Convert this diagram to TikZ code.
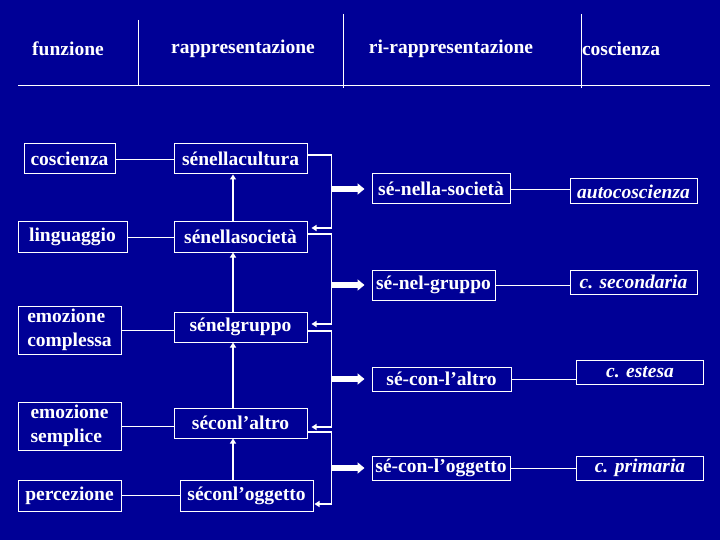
\documentclass[tikz,border=0pt]{standalone}
\usepackage{fontspec}
\setmainfont{Liberation Serif}
\usetikzlibrary{arrows.meta}
\definecolor{slideblue}{RGB}{0,0,150}

\begin{document}
\begin{tikzpicture}[x=1pt, y=-1pt,
    box/.style={rectangle, draw=white, line width=1pt, text=white, inner sep=0pt, minimum height=30pt, align=center, font=\fontsize{19.5}{24}\selectfont\bfseries},
    lbox/.style={box, align=left, minimum width=103pt, minimum height=48pt},
    cbox/.style={box, minimum width=127pt, minimum height=24pt, font=\fontsize{19.5}{24}\selectfont\bfseries\itshape},
    head/.style={text=white, inner sep=0pt, font=\fontsize{19.5}{24}\selectfont\bfseries},
    link/.style={draw=white, line width=0.8pt},
    uparrow/.style={draw=white, line width=1.6pt, -{Triangle[length=5pt,width=6pt]}},
    bracket/.style={draw=white, line width=1.6pt, -{Triangle[length=5pt,width=6pt]}},
    bigarrow/.style={draw=white, line width=5.5pt, -{Triangle[length=7pt,width=11pt]}}
]
\fill [slideblue] (0,0) rectangle (720,540);
\useasboundingbox (0,0) rectangle (720,540);

% header
\node (hfunz) [head] at (68,49) {funzione};
\node (hrapp) [head] at (243,49) {rappresentazione};
\node (hrirapp) [head] at (451,49) {ri-rappresentazione};
\node (hcosc) [head] at (621,49) {coscienza};
\draw [link] (18,85) -- (710,85);
\draw [link] (138,20) -- (138,86);
\draw [link] (343,14) -- (343,88);
\draw [link] (581,14) -- (581,88);

% funzione
\node (fcos) [box, minimum width=91pt] at (69.5,159) {coscienza};
\node (fling) [box, minimum width=109pt] at (72.5,237) {linguaggio};
\node (femc) [lbox] at (69.5,330) {emozione\\complessa};
\node (fems) [lbox] at (69.5,426) {emozione\\semplice};
\node (fperc) [box, minimum width=103pt, minimum height=31pt] at (69.5,495.5) {percezione};

% rappresentazione
\node (rcult) [box, minimum width=133pt] at (240.5,159) {sénellacultura};
\node (rsoc) [box, minimum width=133pt] at (240.5,237) {sénellasocietà};
\node (rgrp) [box, minimum width=133pt] at (240.5,327) {sénelgruppo};
\node (ralt) [box, minimum width=133pt] at (240.5,423) {séconl’altro};
\node (rogg) [box, minimum width=133pt, minimum height=31pt] at (246.5,495.5) {séconl’oggetto};

% ri-rappresentazione
\node (rrsoc) [box, minimum width=138pt] at (441,189) {sé-nella-società};
\node (rrgrp) [box, minimum width=123pt] at (433.5,285) {sé-nel-gruppo};
\node (rralt) [box, minimum width=139pt, minimum height=24pt] at (441.5,379) {sé-con-l’altro};
\node (rrogg) [box, minimum width=138pt, minimum height=24pt] at (441,468) {sé-con-l’oggetto};

% coscienza
\node (cauto) [cbox, minimum height=25pt] at (633.5,191.5) {autocoscienza};
\node (csec) [cbox] at (633.5,282) {c. secondaria};
\node (cest) [cbox] at (640,372) {c. estesa};
\node (cprim) [cbox] at (640,468) {c. primaria};

\draw [link] (fcos.east) -- (fcos.east -| rcult.west);
\draw [link] (fling.east) -- (fling.east -| rsoc.west);
\draw [link] (femc.east) -- (femc.east -| rgrp.west);
\draw [link] (fems.east) -- (fems.east -| ralt.west);
\draw [link] (fperc.east) -- (fperc.east -| rogg.west);
\draw [link] (rrsoc.east) -- (rrsoc.east -| cauto.west);
\draw [link] (rrgrp.east) -- (rrgrp.east -| csec.west);
\draw [link] (rralt.east) -- (rralt.east -| cest.west);
\draw [link] (rrogg.east) -- (rrogg.east -| cprim.west);

\coordinate (vx) at (233,0);
\draw [uparrow] (rsoc.north -| vx) -- (rcult.south -| vx);
\draw [uparrow] (rgrp.north -| vx) -- (rsoc.south -| vx);
\draw [uparrow] (ralt.north -| vx) -- (rgrp.south -| vx);
\draw [uparrow] (rogg.north -| vx) -- (ralt.south -| vx);

\coordinate (bx) at (331,0);
\draw [bracket] ([yshift=4pt]rcult.east) -- ++(24pt,0) |- ([yshift=9pt,xshift=4pt]rsoc.east);
\draw [bracket] ([yshift=3pt]rsoc.east) -- ++(24pt,0) |- ([yshift=3pt,xshift=4pt]rgrp.east);
\draw [bracket] ([yshift=-4pt]rgrp.east) -- ++(24pt,0) |- ([yshift=-4pt,xshift=4pt]ralt.east);
\draw [bracket] ([yshift=-9pt]ralt.east) -- ++(24pt,0) |- ([yshift=-8.5pt,xshift=1pt]rogg.east);

\draw [bigarrow] (rrsoc.west -| bx) -- ([xshift=-7pt]rrsoc.west);
\draw [bigarrow] (rrgrp.west -| bx) -- ([xshift=-7pt]rrgrp.west);
\draw [bigarrow] (rralt.west -| bx) -- ([xshift=-7pt]rralt.west);
\draw [bigarrow] (rrogg.west -| bx) -- ([xshift=-7pt]rrogg.west);
\end{tikzpicture}
\end{document}
